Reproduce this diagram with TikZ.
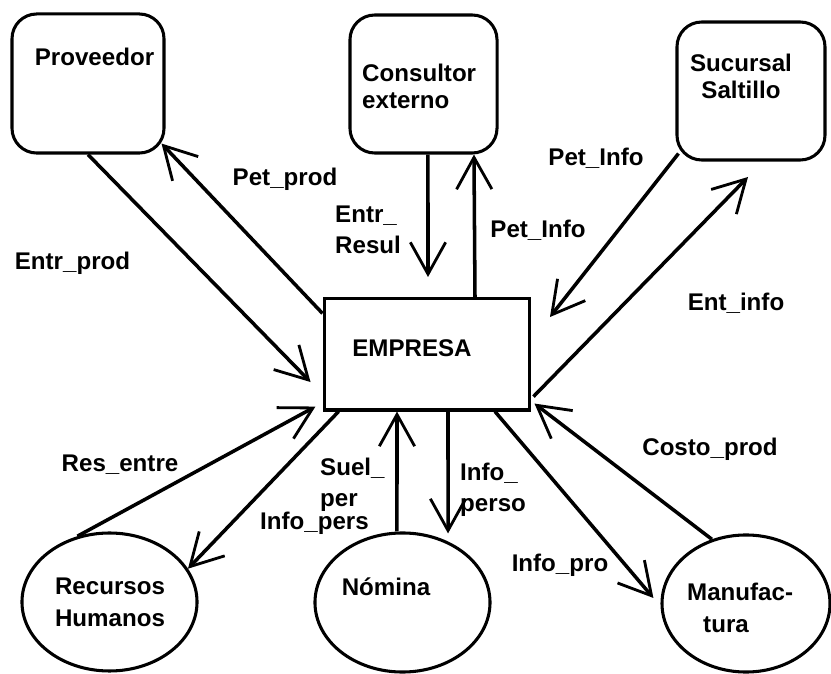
\documentclass[tikz,border=0pt]{standalone}
\usepackage{fontspec}
\setmainfont{Liberation Sans}
\usetikzlibrary{arrows.meta,shapes.geometric,calc}
\begin{document}
\begin{tikzpicture}[x=0.85pt,y=-0.85pt,
  txt/.style={inner sep=0pt,font=\fontsize{20.5}{23}\selectfont\bfseries},
  lbl/.style={inner sep=0pt,font=\fontsize{20.5}{27}\selectfont\bfseries},
  ext/.style={draw,line width=2.6pt,rounded corners=21pt,inner sep=0pt},
  proc/.style={draw,line width=2.6pt,inner sep=0pt},
  circ/.style={draw,ellipse,line width=2.6pt,inner sep=0pt},
  flow/.style={line width=3pt,-{Straight Barb[length=27pt,width=30pt,line width=2.4pt]}}]
\useasboundingbox (0,0) rectangle (831,674);
% boxes
\node[ext,minimum width=129.2pt,minimum height=118.2pt] (prov) at (88,83.5) {};
\node[ext,minimum width=125pt,minimum height=117.3pt] (cons) at (423.5,84) {};
\node[ext,minimum width=125.8pt,minimum height=117.3pt] (suc) at (751,91) {};
\node[proc,minimum width=175pt,minimum height=94.4pt] (emp) at (427,354.5) {};
\node[circ,minimum width=148.8pt,minimum height=117.3pt] (rh) at (109.5,602) {};
\node[circ,minimum width=148.8pt,minimum height=118.2pt] (nom) at (402.5,602.5) {};
\node[circ,minimum width=142.8pt,minimum height=116.5pt] (manu) at (746,603.5) {};
% texts inside (base = baseline of the last line)
\node[txt,anchor=base] (provt) at (94.5,66) {Proveedor};
\node[txt,anchor=base west,align=left] (const) at (362,109) {Consultor\\externo};
\node[txt,anchor=base,align=center] (suct) at (741,99) {Sucursal\\Saltillo};
\node[txt,anchor=base] (empt) at (412,357) {EMPRESA};
\node[lbl,anchor=base,align=center] (rht) at (110,626) {Recursos\\Humanos};
\node[txt,anchor=base] (nomt) at (386,596) {Nómina};
\node[lbl,anchor=base west,align=left] (manut) at (687,632) {Manufac-\\\hspace*{13.6pt}tura};
% free ends
\coordinate (erTip) at (428,277);
\coordinate (piTip) at (550,317);
\coordinate (eiTip) at (748,177);
% connectors
\draw[flow] (prov.south) -- ([xshift=-10.2pt,yshift=-23.4pt]emp.west);
\draw[flow] ([yshift=-13.6pt]emp.north west) -- ([xshift=-3.4pt,yshift=9.35pt]prov.south east);
\draw[flow] ([xshift=3.8pt]cons.south) -- (erTip);
\draw[flow] ([xshift=40.8pt]emp.north) -- ([xshift=42.9pt]cons.south);
\draw[flow] ([xshift=2.55pt,yshift=6.8pt]suc.south west) -- (piTip);
\draw[flow] ([xshift=1.7pt,yshift=12.75pt]emp.south east) -- (eiTip);
\draw[flow] (manu.118) -- ([xshift=2.55pt,yshift=6.8pt]emp.south east);
\draw[flow] ([xshift=57.8pt]emp.south) -- ([xshift=-6pt,yshift=4.7pt]manu.west);
\draw[flow] ([xshift=17.85pt]emp.south) -- ([xshift=38.7pt,yshift=-1.7pt]nom.north);
\draw[flow] ([xshift=-4.7pt]nom.north) -- ([xshift=-25.5pt]emp.south);
\draw[flow] (rh.116) -- ([xshift=-6pt,yshift=4.25pt]emp.south west);
\draw[flow] ([xshift=13.6pt]emp.south west) -- (rh.23);
% labels
\node[txt,anchor=base] (l1) at (72.5,270) {Entr\_prod};
\node[txt,anchor=base] (l2) at (285,186) {Pet\_prod};
\node[lbl,anchor=base west,align=left] (l3) at (335,254) {Entr\_\\Resul};
\node[txt,anchor=base] (l4) at (538,238) {Pet\_Info};
\node[txt,anchor=base] (l5) at (596,166) {Pet\_Info};
\node[txt,anchor=base] (l6) at (736,311) {Ent\_info};
\node[txt,anchor=base] (l7) at (710,456) {Costo\_prod};
\node[txt,anchor=base] (l8) at (560,572) {Info\_pro};
\node[lbl,anchor=base west,align=left] (l9) at (460,512) {Info\_\\perso};
\node[lbl,anchor=base west,align=left] (l10) at (320,507) {Suel\_\\per};
\node[txt,anchor=base west] (l11) at (260,530) {Info\_pers};
\node[txt,anchor=base] (l12) at (120,472) {Res\_entre};
\end{tikzpicture}
\end{document}
